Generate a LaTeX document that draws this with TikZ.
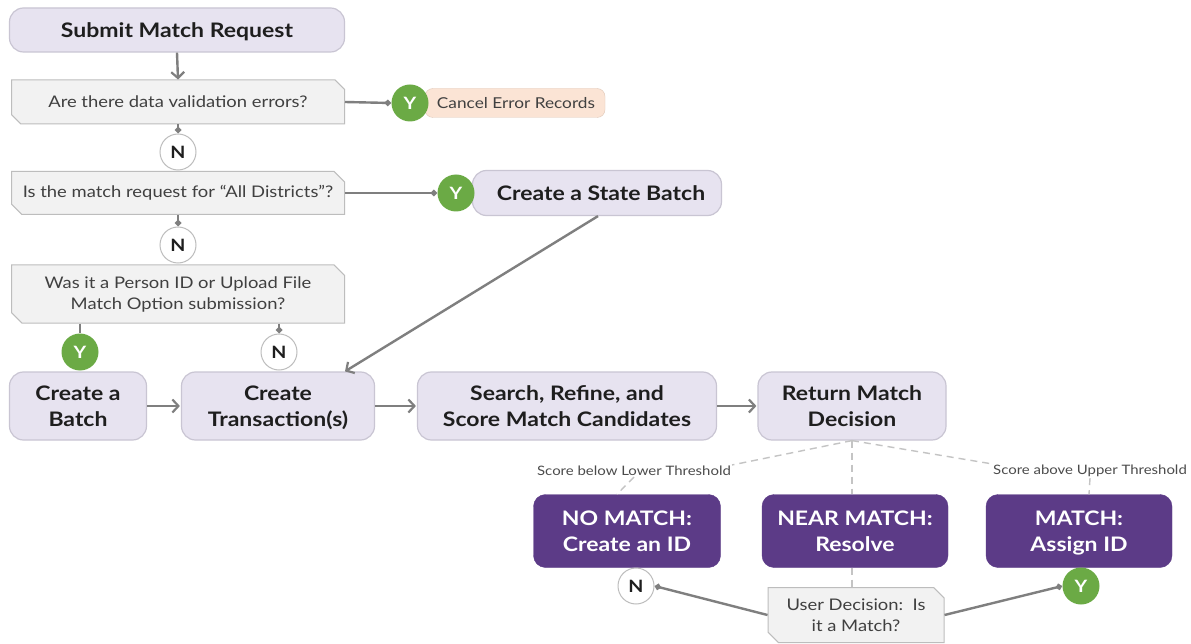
\documentclass[tikz,border=0pt]{standalone}
\usepackage{fontspec}
\setmainfont{Lato}[FakeStretch=1.15]
\usetikzlibrary{arrows.meta,shapes.misc}
\definecolor{lpurple}{HTML}{E7E3F0}
\definecolor{lpborder}{HTML}{C9C5D3}
\definecolor{qfill}{HTML}{F2F2F2}
\definecolor{qborder}{HTML}{BDBDBD}
\definecolor{dpurple}{HTML}{5C3B87}
\definecolor{ygreen}{HTML}{6BAA45}
\definecolor{peach}{HTML}{FBE4D5}
\definecolor{peachb}{HTML}{E0C8B8}
\definecolor{conn}{HTML}{7F7F7F}
\definecolor{dash}{HTML}{C4C4C4}
\definecolor{txt}{HTML}{1E1E1E}
\tikzset{
  proc/.style={draw=lpborder, fill=lpurple, line width=1.2pt, rounded corners=14pt, align=center,
     font=\fontsize{20}{26}\selectfont\bfseries, text=txt, inner sep=0pt, text depth=0pt},
  quest/.style={chamfered rectangle, chamfered rectangle corners={north east,south west},
     chamfered rectangle xsep=7pt, draw=qborder, fill=qfill, line width=1pt, align=center,
     font=\fontsize{16}{21}\selectfont, text=txt!85, inner sep=0pt},
  result/.style={draw=dpurple, fill=dpurple, rounded corners=12pt, align=center,
     font=\fontsize{20}{26}\selectfont\bfseries, text=white, inner sep=0pt, text depth=0pt},
  ycirc/.style={circle, fill=ygreen, minimum size=37pt, inner sep=0pt,
     font=\fontsize{17}{17}\selectfont\bfseries, text=white},
  ncirc/.style={circle, fill=white, draw=qborder, line width=1pt, minimum size=36pt, inner sep=0pt,
     font=\fontsize{17}{17}\selectfont\bfseries, text=txt},
  conline/.style={draw=conn, line width=2.4pt},
  dtip/.style={conline, -{Diamond[length=7pt,width=7pt]}},
  atip/.style={conline, -{Straight Barb[length=6pt,width=13pt,line width=2.2pt]}},
  dashl/.style={draw=dash, line width=1.4pt, dash pattern=on 7pt off 5pt},
  small/.style={font=\fontsize{13}{14}\selectfont, text=txt!80, fill=white, inner sep=1pt}
}
\begin{document}
\begin{tikzpicture}[x=1pt,y=-1pt]
\useasboundingbox[fill=white] (0,0) rectangle (1191,644);
% left column
\node[proc, minimum width=335pt, minimum height=44pt] (submit) at (177,30) {Submit Match Request};
\node[quest, minimum width=333pt, minimum height=44pt] (q1) at (178,102) {Are there data validation errors?};
\node[draw=peachb, fill=peach, rounded corners=8pt, minimum width=180pt, minimum height=29pt,
   font=\fontsize{15}{18}\selectfont, text=txt!85, inner sep=0pt] (cancel) at (515,103) {\hspace*{2pt}Cancel Error Records};
\node[ycirc] (y1) at (410,103) {Y};
\node[ncirc] (n1) at (178,152) {N};
\node[quest, minimum width=333pt, minimum height=43pt] (q2) at (178,193) {Is the match request for “All Districts”?};
\node[proc, minimum width=249pt, minimum height=45pt] (state) at (597,193) {\hspace*{8pt}Create a State Batch};
\node[ycirc] (y2) at (456,193) {Y};
\node[ncirc] (n2) at (178,245) {N};
\node[quest, minimum width=333pt, minimum height=58pt] (q3) at (178,294) {Was it a Person ID or Upload File\\Match Option submission?};
\node[ycirc] (y3) at (80,352) {Y};
\node[ncirc] (n3) at (279,352) {N};
% process row
\node[proc, minimum width=137pt, minimum height=68pt] (batch) at (78,406) {Create a\\Batch};
\node[proc, minimum width=193pt, minimum height=68pt] (trans) at (278,406) {Create\\Transaction(s)};
\node[proc, minimum width=299pt, minimum height=68pt] (search) at (567,406) {Search, Refine, and\\Score Match Candidates};
\node[proc, minimum width=188pt, minimum height=68pt] (ret) at (852,406) {Return Match\\Decision};
% results
\node[result, minimum width=187pt, minimum height=73pt] (nomatch) at (627,531) {NO MATCH:\\Create an ID};
\node[result, minimum width=186pt, minimum height=73pt] (near) at (855,531) {NEAR MATCH:\\Resolve};
\node[result, minimum width=186pt, minimum height=73pt] (match) at (1079,531) {MATCH:\\Assign ID};
\node[small] (lowlbl) at (634,471) {Score below Lower Threshold};
\node[small] (uplbl) at (1090,471) {Score above Upper Threshold};
\node[quest, minimum width=176pt, minimum height=55pt] (user) at (856,615) {User Decision:\ \ Is\\it a Match?};
\node[ncirc] (n4) at (636,586) {N};
\node[ycirc] (y4) at (1081,586) {Y};
% connectors
\draw[atip] (submit.south) -- (q1.north);
\draw[dtip] (q1.east) -- (y1.west);
\draw[dtip] (q1.south) -- (n1.north);
\draw[dtip] (q2.east) -- (y2.west);
\draw[dtip] (q2.south) -- (n2.north);
\draw[conline] (q3.south -| y3.north) -- (y3.north);
\draw[dtip] (q3.south -| n3.north) -- (n3.north);
\draw[atip] (batch.east) -- ([xshift=-1pt]trans.west);
\draw[atip] (trans.east) -- ([xshift=-1pt]search.west);
\draw[atip] (search.east) -- ([xshift=-1pt]ret.west);
\draw[atip] ([xshift=1pt]state.south) -- ([xshift=67pt]trans.north);
\draw[dashl] (ret.south) -- (lowlbl.north east);
\draw[dashl] (lowlbl.south) -- ([xshift=-10pt]nomatch.north);
\draw[dashl] (ret.south) -- (near.north -| ret.south);
\draw[dashl] (ret.south) -- (uplbl.north west);
\draw[dashl] (uplbl.south) -- ([xshift=10pt]match.north);
\draw[dashl] (near.south -| ret.south) -- (user.north -| ret.south);
\draw[dtip] (user.west) -- (n4.east);
\draw[dtip] (user.east) -- (y4.west);
\end{tikzpicture}
\end{document}
